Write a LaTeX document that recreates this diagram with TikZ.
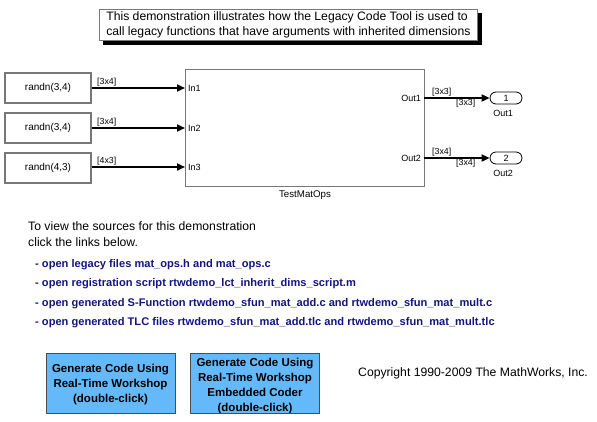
\documentclass[tikz,border=0pt]{standalone}
\usepackage{fontspec}
\setmainfont{Liberation Sans}
\usetikzlibrary{arrows.meta}
\definecolor{blockgray}{RGB}{120,120,120}
\definecolor{linknavy}{RGB}{20,20,125}
\definecolor{btnblue}{RGB}{100,185,250}
\begin{document}
\begin{tikzpicture}[x=1pt,y=-1pt,
  srcblock/.style={draw=blockgray,line width=1.3pt,minimum width=86pt,minimum height=30pt,inner sep=0pt,font=\fontsize{10}{11}\selectfont},
  sig/.style={draw=black,line width=1.8pt,-{Triangle[length=8pt,width=7pt]}},
  siglabel/.style={font=\fontsize{8.8}{9}\selectfont,inner sep=0pt},
  portlabel/.style={font=\fontsize{9}{10}\selectfont,inner sep=0pt},
  outport/.style={draw=black,line width=0.8pt,rounded corners=6pt,minimum width=32pt,minimum height=12pt,inner sep=0pt,font=\fontsize{9}{10}\selectfont},
  plain/.style={font=\fontsize{12.2}{15}\selectfont,inner sep=0pt,anchor=west},
  linktxt/.style={font=\fontsize{11.1}{13}\selectfont\bfseries,text=linknavy,inner sep=0pt,anchor=west},
  button/.style={draw=black!70,line width=0.8pt,fill=btnblue,minimum width=129pt,minimum height=60pt,inner sep=0pt},
  btntext/.style={inner sep=0pt,align=center,font=\fontsize{11.5}{15}\selectfont\bfseries}
]
\useasboundingbox (0,0) rectangle (597,421);
% title box
\fill[black] (103,13) rectangle (482,45);
\node[draw=blockgray,line width=0.8pt,fill=white,minimum width=378pt,minimum height=31pt,inner sep=0pt,anchor=north west] (title) at (99,9) {};
\node[font=\fontsize{12.2}{15}\selectfont,inner sep=0pt,align=left] (titletext) at (title.center) {This demonstration illustrates how the Legacy Code Tool is used to\\call legacy functions that have arguments with inherited dimensions};
% source blocks
\node[srcblock] (s1) at (48,88) {randn(3,4)};
\node[srcblock] (s2) at (48,128) {randn(3,4)};
\node[srcblock] (s3) at (48,168) {randn(4,3)};
% main block
\node[draw=blockgray,line width=1.3pt,minimum width=239pt,minimum height=117pt,inner sep=0pt,anchor=north west] (main) at (185,69) {};
\node[font=\fontsize{9.7}{10}\selectfont,inner sep=0pt] (mainname) at (305,195) {TestMatOps};
\coordinate (in1) at (185,88);
\coordinate (in2) at (185,128);
\coordinate (in3) at (185,167);
\coordinate (o1) at (424,98);
\coordinate (o2) at (424,158);
\node[portlabel,anchor=west] (l1) at (188,88) {In1};
\node[portlabel,anchor=west] (l2) at (188,128) {In2};
\node[portlabel,anchor=west] (l3) at (188,167) {In3};
\node[portlabel,anchor=east] (lo1) at (421,98) {Out1};
\node[portlabel,anchor=east] (lo2) at (421,158) {Out2};
% input signals
\draw[sig] (s1.east) -- (in1);
\draw[sig] (s2.east) -- (in2);
\draw[sig] (s3.east |- in3) -- (in3);
\node[siglabel,anchor=west] (d1) at (97,82) {[3x4]};
\node[siglabel,anchor=west] (d2) at (97,122) {[3x4]};
\node[siglabel,anchor=west] (d3) at (97,161) {[4x3]};
% output ports
\node[outport] (p1) at (506,98) {1};
\node[outport] (p2) at (506,158) {2};
\node[portlabel] (n1) at (503,113) {Out1};
\node[portlabel] (n2) at (503,173) {Out2};
\draw[sig] (o1) -- (p1.west);
\draw[sig] (o2) -- (p2.west);
\node[siglabel,anchor=west] (e1) at (432,92) {[3x3]};
\node[siglabel,anchor=west] (f1) at (456,103) {[3x3]};
\node[siglabel,anchor=west] (e2) at (432,152) {[3x4]};
\node[siglabel,anchor=west] (f2) at (456,163) {[3x4]};
% info text
\node[plain] (t1) at (28,226) {To view the sources for this demonstration};
\node[plain] (t2) at (28,242) {click the links below.};
\node[linktxt] (k1) at (35,265) {- open legacy files mat\_ops.h and mat\_ops.c};
\node[linktxt] (k2) at (35,284) {- open registration script rtwdemo\_lct\_inherit\_dims\_script.m};
\node[linktxt] (k3) at (35,304) {- open generated S-Function rtwdemo\_sfun\_mat\_add.c and rtwdemo\_sfun\_mat\_mult.c};
\node[linktxt] (k4) at (35,323) {- open generated TLC files rtwdemo\_sfun\_mat\_add.tlc and rtwdemo\_sfun\_mat\_mult.tlc};
% buttons
\node[button] (b1) at (110.5,383) {};
\node[btntext] (b1t) at (110.5,385) {Generate Code Using\\Real-Time Workshop\\(double-click)};
\node[button] (b2) at (255,383) {};
\begin{scope}
\clip (191,353) rectangle (319,412.6);
\node[btntext] (b2t) at (255,386) {Generate Code Using\\Real-Time Workshop\\Embedded Coder\\(double-click)};
\end{scope}
\node[plain] (copy) at (358,373) {Copyright 1990-2009 The MathWorks, Inc.};
\end{tikzpicture}
\end{document}
